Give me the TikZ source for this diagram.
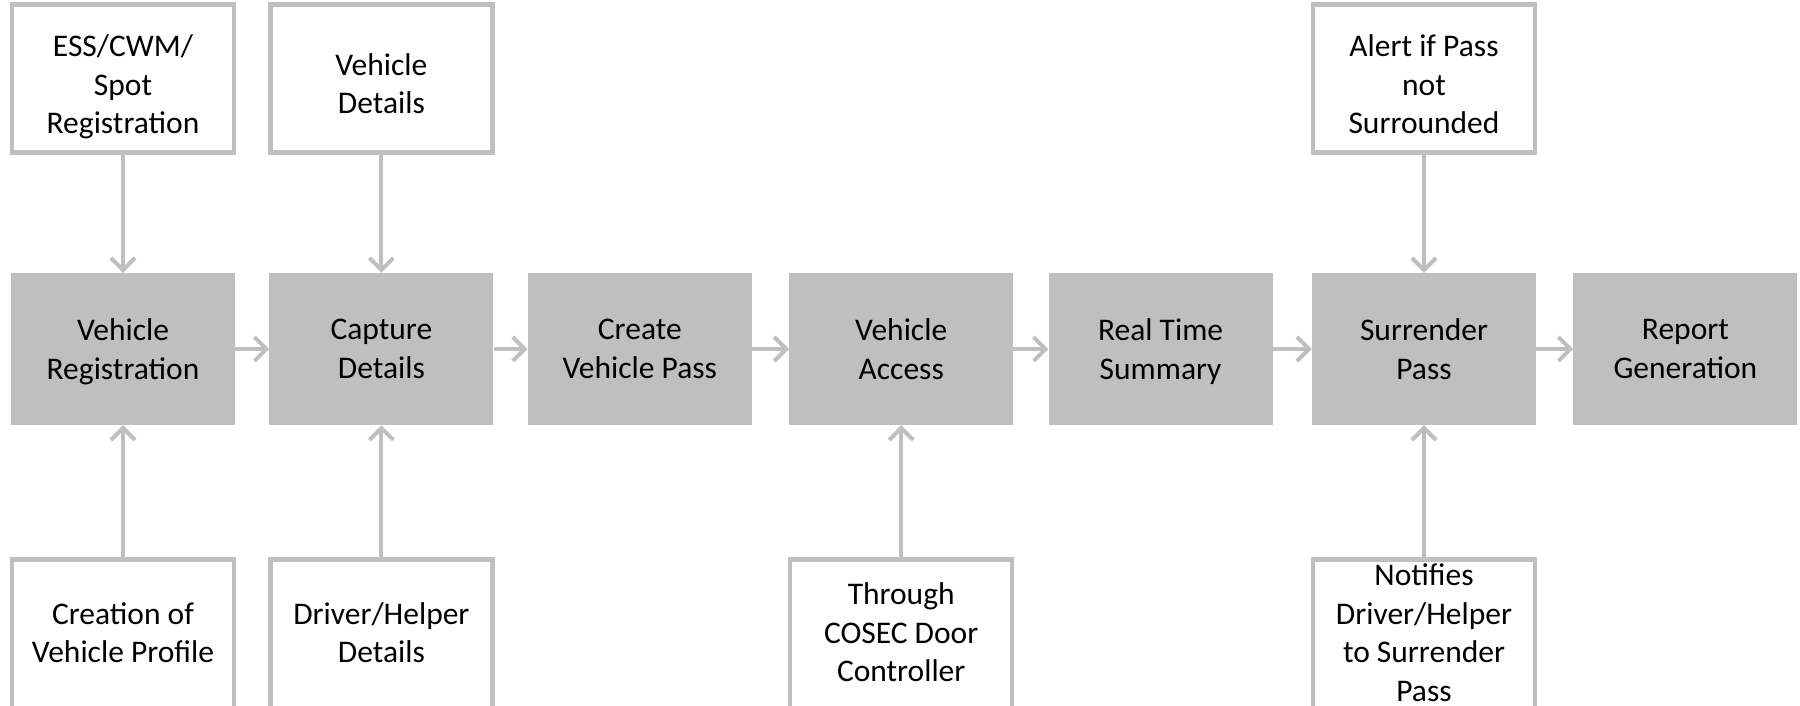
\documentclass[tikz,border=0pt]{standalone}
\usepackage{fontspec}
\setmainfont{Carlito}
\usetikzlibrary{positioning,arrows.meta}
\definecolor{VMgray}{RGB}{191,191,191}

\begin{document}
\begin{tikzpicture}[x=1pt,y=1pt,
    stage/.style={fill=VMgray,minimum width=224pt,minimum height=152pt,inner sep=0pt,
                  align=center,font=\fontsize{31.5}{38.5}\selectfont,
                  execute at begin node=\strut,text depth=-3pt},
    feed/.style={stage,fill=white,draw=VMgray,line width=4.5pt,minimum width=222pt,minimum height=148pt,
                 text height=110pt,text depth=0pt},
    feedlow/.style={stage,fill=white,draw=VMgray,line width=4.5pt,minimum width=222pt,text depth=6pt},
    flow/.style={draw=VMgray,line width=4pt,-{Straight Barb[length=12pt,width=24pt]}}]
  \useasboundingbox (0,0) rectangle (1800,-705);

  % main row
  \node[stage] (reg) at (123,-349) {Vehicle\\Registration};
  \node[stage,right=34pt of reg] (cap) {Capture\\Details};
  \node[stage,right=34pt of cap] (pass) {Create\\Vehicle Pass};
  \node[stage,right=37pt of pass] (acc) {Vehicle\\Access};
  \node[stage,right=35pt of acc] (rts) {Real Time\\Summary};
  \node[stage,right=39pt of rts] (sur) {Surrender\\Pass};
  \node[stage,right=37pt of sur] (rep) {Report\\Generation};

  % inputs above
  \node[feed,above=118pt of reg] (ess) {ESS/CWM/\\Spot\\Registration};
  \node[feed,text height=70pt,above=118pt of cap] (vdet) {Vehicle\\Details};
  \node[feed,above=118pt of sur] (alert) {Alert if Pass\\not\\Surrounded};

  % inputs below
  \node[feedlow,below=132pt of reg] (prof) {Creation of\\Vehicle Profile};
  \node[feedlow,below=132pt of cap] (drv) {Driver/Helper\\Details};
  \node[feedlow,below=132pt of acc] (cosec) {Through\\COSEC Door\\Controller};
  \node[feedlow,below=132pt of sur] (notif) {Notifies\\Driver/Helper\\to Surrender\\Pass};

  \draw[flow] (reg) -- (cap);
  \draw[flow] (cap) -- (pass);
  \draw[flow] (pass) -- (acc);
  \draw[flow] (acc) -- (rts);
  \draw[flow] (rts) -- (sur);
  \draw[flow] (sur) -- (rep);

  \draw[flow] (ess) -- (reg);
  \draw[flow] (vdet) -- (cap);
  \draw[flow] (alert) -- (sur);
  \draw[flow] (prof) -- (reg);
  \draw[flow] (drv) -- (cap);
  \draw[flow] (cosec) -- (acc);
  \draw[flow] (notif) -- (sur);
\end{tikzpicture}
\end{document}
